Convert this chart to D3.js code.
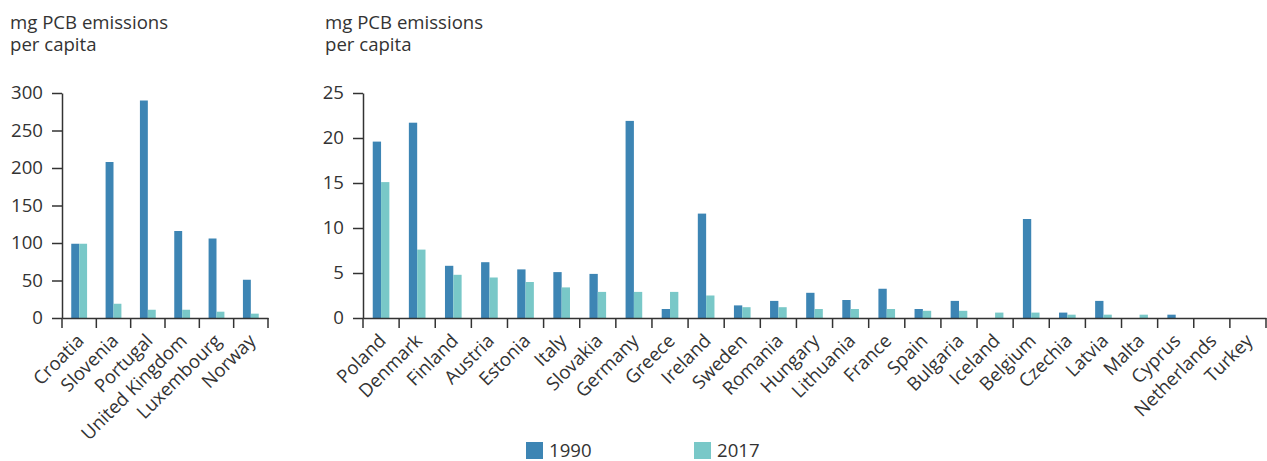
<!DOCTYPE html>
<html>
<head>
<meta charset="utf-8">
<script src="https://cdn.jsdelivr.net/npm/d3@7"></script>
<style>
    body { margin: 0; background: #fff; }
    svg { display: block; font-family: "Open Sans", sans-serif; }
    .domain { stroke: #333; stroke-width: 1.5; }
    .tick line { stroke: #333; stroke-width: 1.5; }
    .tick text { fill: #333; font-size: 18.6px; font-family: "Open Sans", sans-serif; }
</style>
</head>
<body>
<svg id="chart" width="1267" height="461"></svg>
<script>
// Data
const seriesNames = ['1990', '2017'];
const seriesColors = ['#3d85b4', '#79c8c8'];

const leftCountries = ['Croatia', 'Slovenia', 'Portugal', 'United Kingdom', 'Luxembourg', 'Norway'];
const left1990 = [99, 208, 290, 116, 106, 51];
const left2017 = [99, 19, 11, 11, 8.4, 5.8];
const leftTicks = [0, 50, 100, 150, 200, 250, 300];

const rightCountries = ['Poland', 'Denmark', 'Finland', 'Austria', 'Estonia', 'Italy', 'Slovakia', 'Germany',
    'Greece', 'Ireland', 'Sweden', 'Romania', 'Hungary', 'Lithuania', 'France', 'Spain', 'Bulgaria',
    'Iceland', 'Belgium', 'Czechia', 'Latvia', 'Malta', 'Cyprus', 'Netherlands', 'Turkey'];
const right1990 = [19.6, 21.7, 5.8, 6.2, 5.4, 5.1, 4.9, 21.9, 1.0, 11.6, 1.4, 1.9, 2.8, 2.0, 3.25, 1.0, 1.9,
    0, 11.0, 0.6, 1.9, 0, 0.37, 0, 0];
const right2017 = [15.1, 7.6, 4.8, 4.5, 4.0, 3.4, 2.9, 2.9, 2.9, 2.5, 1.2, 1.2, 1.0, 1.0, 1.0, 0.8, 0.8,
    0.6, 0.6, 0.37, 0.37, 0.37, 0, 0, 0];
const rightTicks = [0, 5, 10, 15, 20, 25];

const yTitle = ['mg PCB emissions', 'per capita'];

const svg = d3.select('#chart');

// Draw one panel of grouped bars
function drawPanel(opts) {
    const { countries, values, ticks, x0, x1, titleX } = opts;
    const yTop = 93, yBottom = 318;

    const x = d3.scaleBand().domain(countries).range([x0, x1]);
    const xSub = d3.scaleBand().domain(seriesNames)
        .range([0, x.bandwidth()])
        .paddingOuter(1.17);
    const y = d3.scaleLinear().domain([0, d3.max(ticks)]).range([yBottom, yTop]);

    const g = svg.append('g');

    // Axis title
    g.append('text')
        .attr('x', titleX)
        .attr('y', 29)
        .attr('fill', '#333')
        .attr('font-size', '18.6px')
        .selectAll('tspan')
        .data(yTitle)
        .enter()
        .append('tspan')
        .attr('x', titleX)
        .attr('dy', (d, i) => i === 0 ? 0 : 22)
        .text(d => d);

    // Bars
    countries.forEach((c, i) => {
        values.forEach((vals, s) => {
            if (vals[i] <= 0) return;
            g.append('rect')
                .attr('x', x(c) + xSub(seriesNames[s]))
                .attr('y', y(vals[i]))
                .attr('width', xSub.bandwidth())
                .attr('height', yBottom - y(vals[i]))
                .attr('fill', seriesColors[s]);
        });
    });

    // Y axis
    g.append('g')
        .attr('transform', `translate(${x0},0)`)
        .call(d3.axisLeft(y).tickValues(ticks).tickSize(10).tickSizeOuter(0).tickPadding(9));

    // X axis line and band boundary ticks
    const xAxis = g.append('g').attr('transform', `translate(0,${yBottom})`);
    xAxis.call(d3.axisBottom(x).tickSize(0).tickSizeOuter(0).tickPadding(0));
    xAxis.selectAll('.tick text')
        .attr('x', 0)
        .attr('y', 0)
        .attr('dy', 0)
        .attr('text-anchor', 'end')
        .attr('transform', 'translate(6,24) rotate(-45)');

    const bounds = countries.map(c => x(c)).concat([x1]);
    xAxis.selectAll('.bound')
        .data(bounds)
        .enter()
        .append('line')
        .attr('class', 'bound')
        .attr('x1', d => d)
        .attr('x2', d => d)
        .attr('y1', 0)
        .attr('y2', 10)
        .attr('stroke', '#333')
        .attr('stroke-width', 1.5);
}

drawPanel({
    countries: leftCountries,
    values: [left1990, left2017],
    ticks: leftTicks,
    x0: 62, x1: 268,
    titleX: 10
});

drawPanel({
    countries: rightCountries,
    values: [right1990, right2017],
    ticks: rightTicks,
    x0: 363, x1: 1266,
    titleX: 325
});

// Legend
const legend = svg.append('g');
const legendX = [526, 694];
seriesNames.forEach((name, i) => {
    const row = legend.append('g').attr('transform', `translate(${legendX[i]},442)`);
    row.append('rect')
        .attr('width', 17)
        .attr('height', 17)
        .attr('fill', seriesColors[i]);
    row.append('text')
        .attr('x', 23)
        .attr('y', 15)
        .attr('fill', '#333')
        .attr('font-size', '18.6px')
        .text(name);
});
</script>
</body>
</html>
